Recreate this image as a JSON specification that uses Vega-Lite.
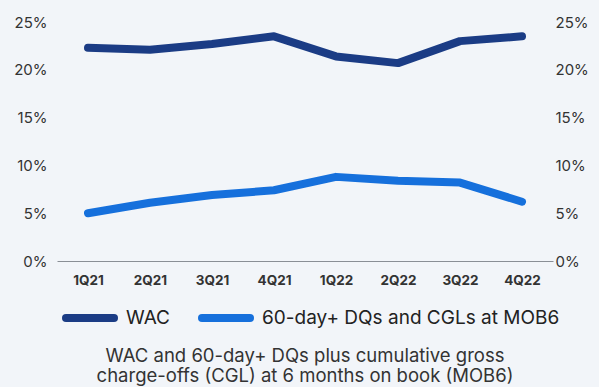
{
  "$schema": "https://vega.github.io/schema/vega-lite/v6.json",
  "width": 496,
  "height": 239,
  "autosize": {"type": "none"},
  "padding": {"left": 57, "top": 22, "right": 46, "bottom": 126},
  "background": "#f2f5f9",
  "config": {
    "font": "Inter",
    "view": {"stroke": null},
    "axis": {"grid": false, "ticks": false, "labelColor": "#333333"}
  },
  "title": {
    "text": ["WAC and 60-day+ DQs plus cumulative gross", "charge-offs (CGL) at 6 months on book (MOB6)"],
    "orient": "bottom",
    "anchor": "middle",
    "fontSize": 18.5,
    "fontWeight": "normal",
    "color": "#333333",
    "lineHeight": 20,
    "offset": 8
  },
  "data": {
    "values": [
      {"q": "1Q21", "series": "WAC", "v": 22.3},
      {"q": "2Q21", "series": "WAC", "v": 22.1},
      {"q": "3Q21", "series": "WAC", "v": 22.7},
      {"q": "4Q21", "series": "WAC", "v": 23.5},
      {"q": "1Q22", "series": "WAC", "v": 21.4},
      {"q": "2Q22", "series": "WAC", "v": 20.7},
      {"q": "3Q22", "series": "WAC", "v": 23.0},
      {"q": "4Q22", "series": "WAC", "v": 23.5},
      {"q": "1Q21", "series": "60-day+ DQs and CGLs at MOB6", "v": 5.0},
      {"q": "2Q21", "series": "60-day+ DQs and CGLs at MOB6", "v": 6.1},
      {"q": "3Q21", "series": "60-day+ DQs and CGLs at MOB6", "v": 6.9},
      {"q": "4Q21", "series": "60-day+ DQs and CGLs at MOB6", "v": 7.4},
      {"q": "1Q22", "series": "60-day+ DQs and CGLs at MOB6", "v": 8.8},
      {"q": "2Q22", "series": "60-day+ DQs and CGLs at MOB6", "v": 8.4},
      {"q": "3Q22", "series": "60-day+ DQs and CGLs at MOB6", "v": 8.2},
      {"q": "4Q22", "series": "60-day+ DQs and CGLs at MOB6", "v": 6.2}
    ]
  },
  "encoding": {
    "x": {
      "field": "q",
      "type": "ordinal",
      "sort": null,
      "scale": {"type": "point", "padding": 0.5},
      "axis": {
        "title": null,
        "labelAngle": 0,
        "labelFontSize": 13.5,
        "labelFontWeight": "bold",
        "labelPadding": 12,
        "domainColor": "#8a8f96",
        "domainWidth": 1
      }
    },
    "color": {
      "field": "series",
      "type": "nominal",
      "scale": {
        "domain": ["WAC", "60-day+ DQs and CGLs at MOB6"],
        "range": ["#1b3c85", "#1670dc"]
      },
      "legend": {
        "title": null,
        "orient": "bottom",
        "direction": "horizontal",
        "symbolType": "stroke",
        "symbolSize": 2304,
        "symbolStrokeWidth": 8,
        "labelFontSize": 19,
        "labelColor": "#222222",
        "labelOffset": 8,
        "columnPadding": 16,
        "padding": 5,
        "offset": -2,
        "labelLimit": 400,
        "encode": {"symbols": {"update": {"strokeCap": {"value": "round"}}}}
      }
    }
  },
  "layer": [
    {
      "transform": [{"filter": "datum.series === 'WAC'"}],
      "mark": {"type": "line", "strokeWidth": 8, "strokeCap": "round", "strokeJoin": "round"},
      "encoding": {
        "y": {
          "field": "v",
          "type": "quantitative",
          "scale": {"domain": [0, 25]},
          "axis": {
            "title": null,
            "orient": "left",
            "domain": false,
            "values": [0, 5, 10, 15, 20, 25],
            "labelExpr": "datum.value + '%'",
            "labelFontSize": 15,
            "labelPadding": 10
          }
        }
      }
    },
    {
      "transform": [{"filter": "datum.series !== 'WAC'"}],
      "mark": {"type": "line", "strokeWidth": 8, "strokeCap": "round", "strokeJoin": "round"},
      "encoding": {
        "y": {
          "field": "v",
          "type": "quantitative",
          "scale": {"domain": [0, 25]},
          "axis": {
            "title": null,
            "orient": "right",
            "domain": false,
            "values": [0, 5, 10, 15, 20, 25],
            "labelExpr": "datum.value + '%'",
            "labelFontSize": 15,
            "labelPadding": 2
          }
        }
      }
    }
  ],
  "resolve": {"scale": {"y": "independent"}}
}
